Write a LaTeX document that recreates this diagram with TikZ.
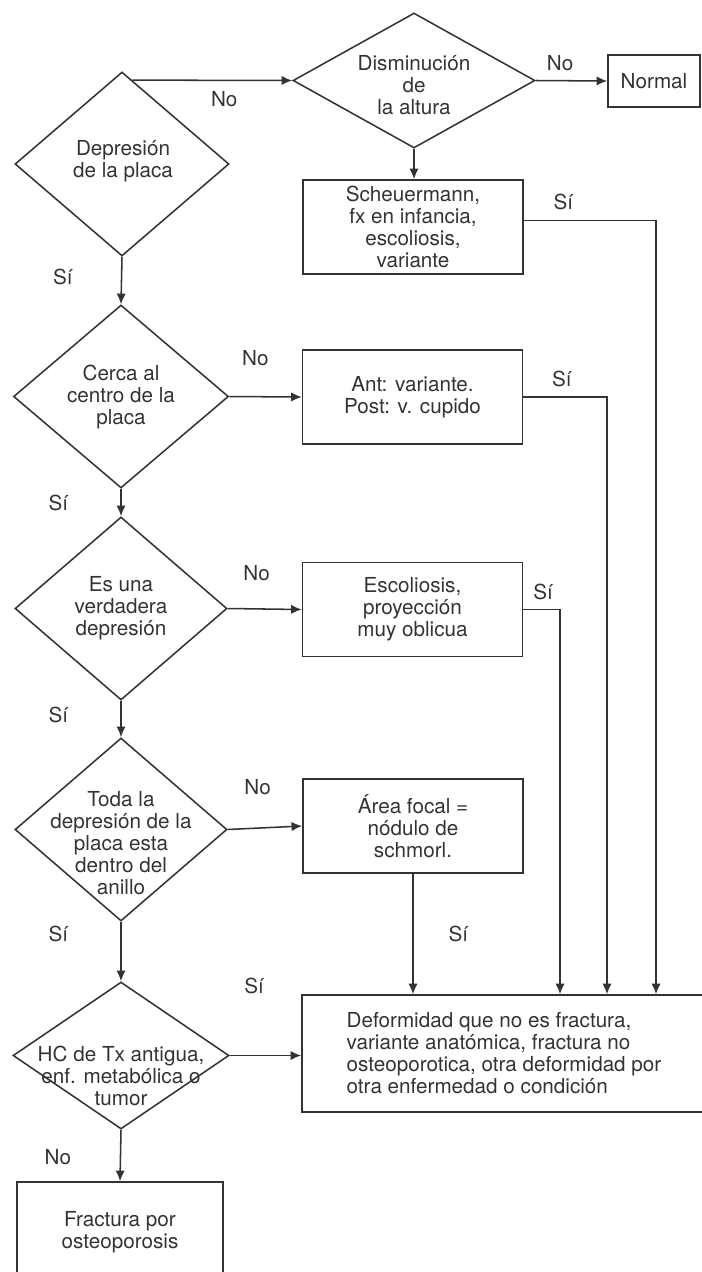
\documentclass[tikz,border=0pt]{standalone}
\usepackage{fontspec}
\setmainfont{TeX Gyre Heros}
\usetikzlibrary{shapes.geometric}
\usetikzlibrary{calc,arrows.meta}
\tikzstyle{chart}=[
  >={Latex[length=8pt,width=7pt]}, x=0.75pt, y=-0.75pt, line width=1.15pt, color=black!80,
  font=\fontsize{15.5pt}{16.5pt}\selectfont
]
\tikzstyle{decision}=[
  draw, diamond, inner sep=0pt
]
\tikzstyle{dtext}=[
  align=center, inner sep=0pt
]
\tikzstyle{outcome}=[
  draw, rectangle, align=center, minimum width=165pt, minimum height=70.5pt
]
\tikzstyle{flow}=[
  ->
]
\tikzstyle{answer}=[
  inner sep=0pt
]

\begin{document}
\begin{tikzpicture}[chart]
  \useasboundingbox (0,0) rectangle (701,1272);
  \node (d1) at (122,164) [decision, minimum width=160.5pt, minimum height=138pt] {};
  \node (d1t) at (123,161) [dtext] {Depresión\\de la placa};
  \node (d2) at (414,80.5) [decision, minimum width=181.5pt, minimum height=101.25pt] {};
  \node (d2t) at (414,85) [dtext] {Disminución\\de\\la altura};
  \node (normal) at (654,81) [outcome, minimum width=69pt, minimum height=39pt] {Normal};
  \node (sch) at (413,227) [outcome] {Scheuermann,\\fx en infancia,\\escoliosis,\\variante};
  \node (d3) at (121,396.5) [decision, minimum width=161.25pt, minimum height=137.25pt] {};
  \node (d3t) at (121,397) [dtext] {Cerca al\\centro de la\\placa};
  \node (ant) at (412.5,397) [outcome] {Ant: variante.\\Post: v. cupido};
  \node (d4) at (121,608.5) [decision, minimum width=159pt, minimum height=137.25pt] {};
  \node (d4t) at (121,608) [dtext] {Es una\\verdadera\\depresión};
  \node (esc) at (412.5,609.5) [outcome] {Escoliosis,\\proyección\\muy oblicua};
  \node (d5) at (121,829.5) [decision, minimum width=159pt, minimum height=137.25pt] {};
  \node (d5t) at (121,843) [dtext] {Toda la\\depresión de la\\placa esta\\dentro del\\anillo};
  \node (area) at (413,826) [outcome] {Área focal =\\nódulo de\\schmorl.};
  \node (d6) at (121,1055.5) [decision, minimum width=162pt, minimum height=110.25pt] {};
  \node (d6t) at (121,1076) [dtext] {HC de Tx antigua,\\enf. metabólica o\\tumor};
  \node (def) at (504,1053.5) [outcome, minimum width=303pt, minimum height=87.75pt, align=left]
    {Deformidad que no es fractura,\\variante anatómica, fractura no\\osteoporotica, otra deformidad por\\otra enfermedad o condición};
  \node (fra) at (120,1232) [outcome, minimum width=154.5pt, minimum height=75pt] {Fractura por\\osteoporosis};
  \coordinate (c1) at (656,0);
  \coordinate (c2) at (607,0);
  \coordinate (c3) at (560,0);
  \draw [flow] (d1.83) -- (d2.west) node [answer, pos=0.575, yshift=-14pt] {No};
  \draw [flow] (d2.east) -- (normal.west) node [answer, pos=0.34, yshift=13pt] {No};
  \draw [flow] (d2.south) -- (d2.south |- sch.north);
  \draw [flow] ([yshift=5pt]sch.east) -| (c1 |- def.north) node [answer, pos=0.15, yshift=13.5pt] {Sí};
  \draw [flow] (d1.south) -- (d3.north) node [answer, pos=0.42, xshift=-44pt] {Sí};
  \draw [flow] (d3.east) -- (ant.west) node [answer, pos=0.36, yshift=29pt] {No};
  \draw [flow] (ant.east) -| (c2 |- def.north) node [answer, pos=0.23, yshift=13.5pt] {Sí};
  \draw [flow] (d3.south) -- (d4.north) node [answer, pos=0.5, xshift=-47pt] {Sí};
  \draw [flow] (d4.east) -- (esc.west) node [answer, pos=0.39, yshift=27pt] {No};
  \draw [flow] (esc.east) -| (c3 |- def.north) node [answer, pos=0.27, yshift=13.5pt] {Sí};
  \draw [flow] (d4.south) -- (d5.north) node [answer, pos=0.4, xshift=-47pt] {Sí};
  \draw [flow] (d5.east) -- (area.west) node [answer, pos=0.4, yshift=31pt] {No};
  \draw [flow] (area.south) -- (area.south |- def.north) node [answer, pos=0.5, xshift=34pt] {Sí};
  \draw [flow] (d5.south) -- (d6.north) node [answer, pos=0.2, xshift=-47pt] {Sí};
  \draw [flow] (d6.east) -- (d6.east -| def.west) node [answer, pos=0.34, yshift=52.5pt] {Sí};
  \draw [flow] (d6.south) -- (fra.north) node [answer, pos=0.53, xshift=-47pt] {No};
\end{tikzpicture}
\end{document}
